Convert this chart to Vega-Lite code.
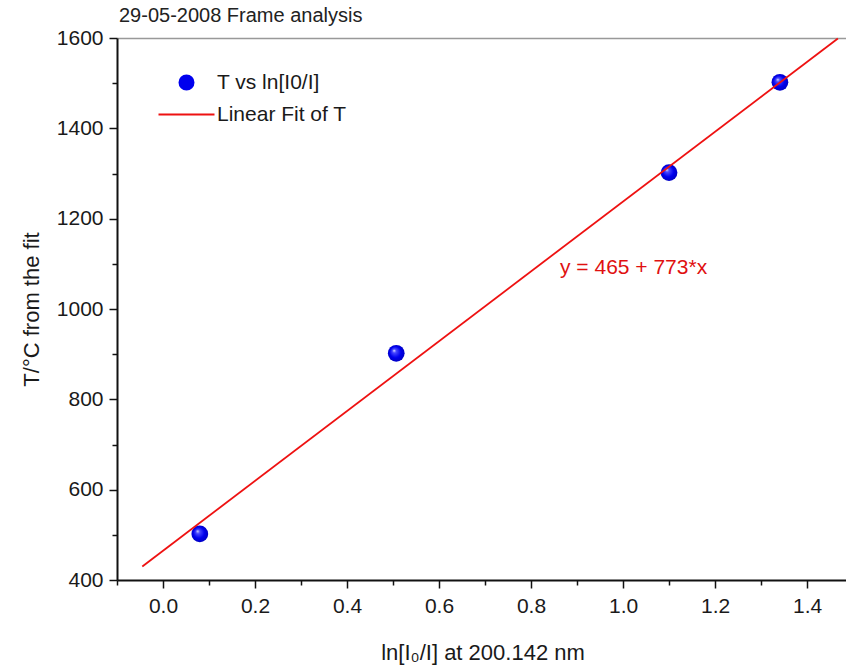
{
  "$schema": "https://vega.github.io/schema/vega-lite/v6.json",
  "width": 731,
  "height": 542,
  "autosize": "none",
  "padding": {"left": 117, "top": 38, "right": 0, "bottom": 91},
  "title": {"text": "29-05-2008 Frame analysis", "anchor": "start", "frame": "group", "font": "Liberation Sans", "fontSize": 20, "fontWeight": "normal", "color": "#222222", "offset": 1, "dx": 2},
  "config": {
    "view": {"stroke": null},
    "font": "Liberation Sans"
  },
  "datasets": {
    "pts": [
      {"x": 0.08, "T": 502, "series": "T vs ln[I0/I]"},
      {"x": 0.507, "T": 902, "series": "T vs ln[I0/I]"},
      {"x": 1.10, "T": 1302, "series": "T vs ln[I0/I]"},
      {"x": 1.341, "T": 1502, "series": "T vs ln[I0/I]"}
    ],
    "fit": [
      {"x": -0.045, "T": 430, "series": "Linear Fit of T"},
      {"x": 1.467, "T": 1599, "series": "Linear Fit of T"}
    ],
    "eq": [
      {"x": 0.863, "T": 1091, "label": "y = 465 + 773*x"}
    ]
  },
  "resolve": {"axis": {"x": "independent", "y": "independent"}},
  "layer": [
    {
      "data": {"name": "pts"},
      "mark": {
        "type": "point",
        "filled": true,
        "size": 280,
        "strokeWidth": 0,
        "fill": {
          "gradient": "radial",
          "x1": 0.36, "y1": 0.33, "r1": 0,
          "x2": 0.5, "y2": 0.5, "r2": 0.55,
          "stops": [
            {"offset": 0, "color": "#f0f0ff"},
            {"offset": 0.2, "color": "#4a4aff"},
            {"offset": 0.6, "color": "#0000ee"},
            {"offset": 1, "color": "#0000bb"}
          ]
        },
        "opacity": 1
      },
      "encoding": {
        "x": {
          "field": "x", "type": "quantitative",
          "scale": {"domain": [-0.1, 1.489], "nice": false, "zero": false},
          "axis": {
            "orient": "bottom", "values": [-0.1, 0.1, 0.3, 0.5, 0.7, 0.9, 1.1, 1.3],
            "labels": false, "domain": false, "grid": false, "title": null,
            "tickSize": 5, "tickColor": "#111111", "tickWidth": 1.5
          }
        },
        "y": {
          "field": "T", "type": "quantitative",
          "scale": {"domain": [400, 1600], "nice": false, "zero": false},
          "axis": {
            "orient": "left", "values": [500, 700, 900, 1100, 1300, 1500],
            "labels": false, "domain": false, "grid": false, "title": null,
            "tickSize": 5, "tickColor": "#111111", "tickWidth": 1.5
          }
        }
      }
    },
    {
      "data": {"name": "fit"},
      "mark": {"type": "line", "strokeWidth": 1.8},
      "encoding": {
        "x": {
          "field": "x", "type": "quantitative",
          "scale": {"domain": [-0.1, 1.489], "nice": false, "zero": false},
          "axis": {
            "orient": "bottom", "values": [0, 0.2, 0.4, 0.6, 0.8, 1.0, 1.2, 1.4], "format": ".1f",
            "grid": false, "domainColor": "#111111", "domainWidth": 2,
            "tickColor": "#111111", "tickWidth": 1.5, "tickSize": 8,
            "labelFontSize": 21, "labelColor": "#1a1a1a", "labelPadding": 7,
            "title": "ln[I₀/I] at 200.142 nm", "titleFontSize": 22, "titleFontWeight": "normal",
            "titleColor": "#1a1a1a", "titlePadding": 26
          }
        },
        "y": {
          "field": "T", "type": "quantitative",
          "scale": {"domain": [400, 1600], "nice": false, "zero": false},
          "axis": {
            "orient": "left", "values": [400, 600, 800, 1000, 1200, 1400, 1600], "format": "d",
            "grid": false, "domainColor": "#111111", "domainWidth": 2,
            "tickColor": "#111111", "tickWidth": 1.5, "tickSize": 8,
            "labelFontSize": 21, "labelColor": "#1a1a1a", "labelPadding": 6,
            "title": "T/°C from the fit", "titleFontSize": 22, "titleFontWeight": "normal",
            "titleColor": "#1a1a1a", "titlePadding": 13
          }
        },
        "color": {
          "field": "series", "type": "nominal",
          "scale": {"domain": ["T vs ln[I0/I]", "Linear Fit of T"], "range": ["#0000ee", "#ee1111"]},
          "legend": {
            "orient": "none", "legendX": 59, "legendY": 34,
            "title": null, "padding": 0, "rowPadding": 9,
            "symbolSize": 196, "labelOffset": 20, "labelFontSize": 21, "labelColor": "#1a1a1a",
            "labelFont": "Liberation Sans",
            "encode": {
              "symbols": {
                "update": {
                  "shape": {"signal": "datum.value === 'Linear Fit of T' ? 'M-4,0H4' : 'circle'"},
                  "fill": {"signal": "datum.value === 'Linear Fit of T' ? 'transparent' : '#0000ee'"},
                  "stroke": {"signal": "datum.value === 'Linear Fit of T' ? '#ee1111' : 'transparent'"},
                  "strokeWidth": {"value": 2}
                }
              }
            }
          }
        }
      }
    },
    {
      "data": {"name": "eq"},
      "mark": {"type": "text", "align": "left", "baseline": "middle", "fontSize": 21, "color": "#e01010", "font": "Liberation Sans"},
      "encoding": {
        "x": {
          "field": "x", "type": "quantitative",
          "scale": {"domain": [-0.1, 1.489], "nice": false, "zero": false},
          "axis": {
            "orient": "top", "labels": false, "ticks": false, "grid": false, "title": null,
            "domainColor": "#999999", "domainWidth": 1.5
          }
        },
        "y": {"field": "T", "type": "quantitative", "scale": {"domain": [400, 1600], "nice": false, "zero": false}, "axis": null},
        "text": {"field": "label"}
      }
    }
  ]
}
